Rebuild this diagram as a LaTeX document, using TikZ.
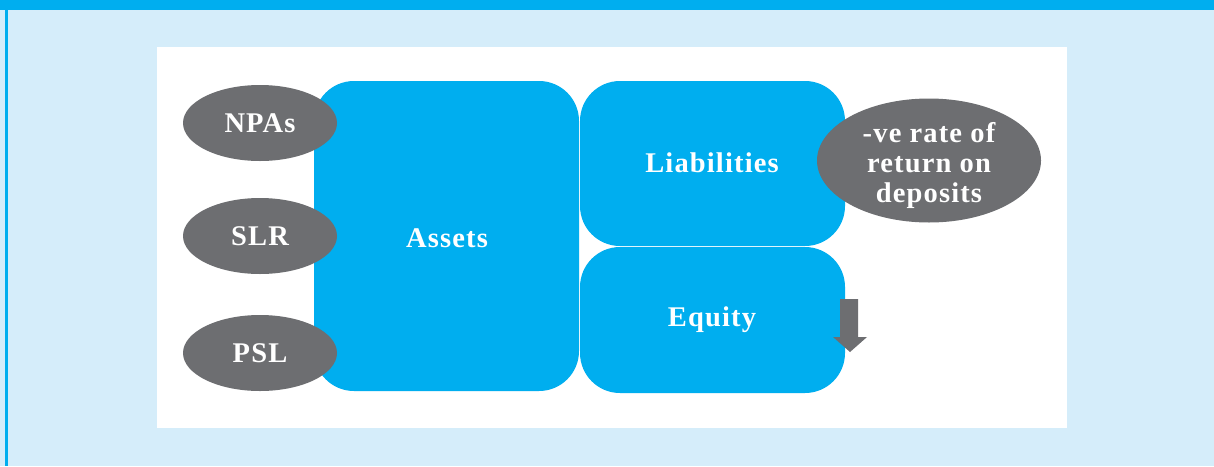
\documentclass[tikz,border=0pt]{standalone}
\usepackage{fontspec}
\newfontfamily\lbf[LetterSpace=4]{Liberation Serif}
\definecolor{cblue}{HTML}{00AEEF}
\definecolor{cgrey}{HTML}{6D6E71}
\definecolor{cbg}{HTML}{D5EDFA}
\begin{document}
\begin{tikzpicture}[x=1pt,y=-1pt,
  lbl/.style={text=white,font=\lbf\bfseries\fontsize{28.5}{30}\selectfont,align=center},
  bigbox/.style={fill=cblue,draw=none,rounded corners=40pt}]
\useasboundingbox (0,0) rectangle (1214,466);
\fill[cbg] (0,0) rectangle (1214,466);
\fill[cblue] (0,0) rectangle (1214,9.5);
\fill[cblue] (5,9) rectangle (8,466);
\fill[white] (157,47) rectangle (1067,428);
% boxes
\path[bigbox] (314,81) rectangle (579,391);
\node[lbl] (assets) at (447,238) {Assets};
\path[bigbox] (580,81) rectangle (845,246);
\node[lbl] (liab) at (712,163) {Liabilities};
\path[bigbox] (580,247) rectangle (845,393);
\node[lbl] (equity) at (712,320) {Equity};
% ovals
\fill[cgrey] (260,123) ellipse [x radius=77, y radius=38];
\node[lbl] (npa) at (260,123) {NPAs};
\fill[cgrey] (260,236) ellipse [x radius=77, y radius=38];
\node[lbl] (slr) at (260,236) {SLR};
\fill[cgrey] (260,353) ellipse [x radius=77, y radius=38];
\node[lbl] (psl) at (260,353) {PSL};
\fill[cgrey] (929,160.5) ellipse [x radius=112, y radius=62];
\node[lbl] (dep) at (929,165) {-ve rate of\\return on\\deposits};
% arrow
\fill[cgrey] (840,299) -- (858,299) -- (858,337) -- (867,337) -- (850,352) -- (833,337) -- (840,337) -- cycle;
\end{tikzpicture}
\end{document}
